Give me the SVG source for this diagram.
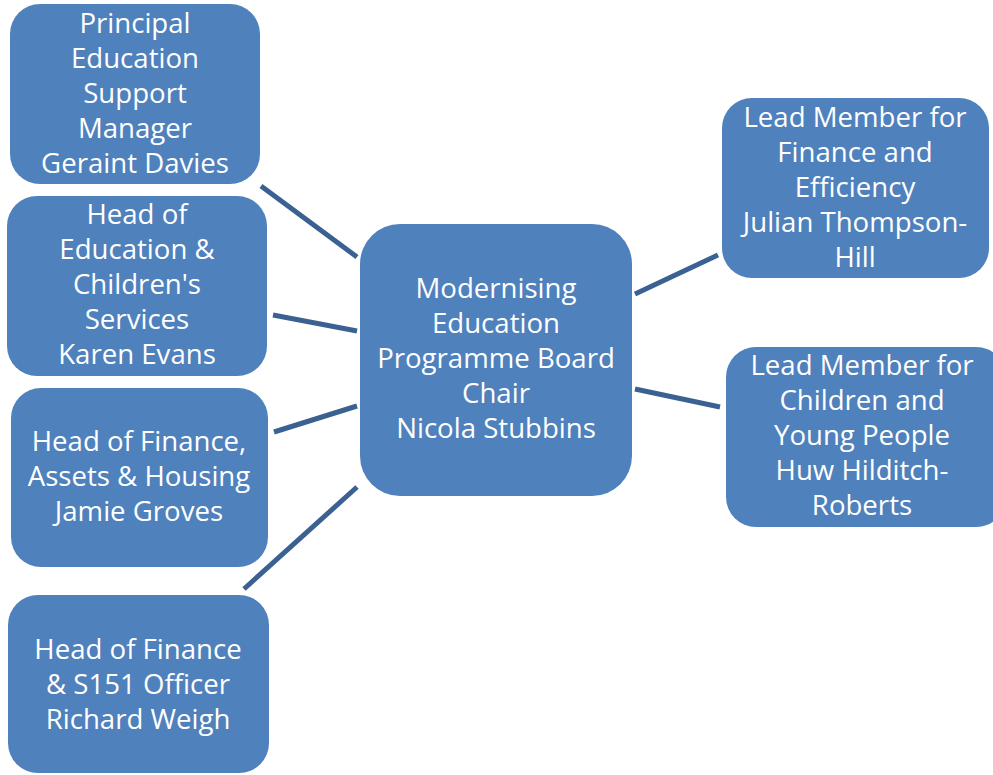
<svg xmlns="http://www.w3.org/2000/svg" width="993" height="775" viewBox="0 0 993 775">
<style>
.box{fill:#4F81BD;}
.t{font-family:"Open Sans","Liberation Sans",sans-serif;font-size:27.6px;fill:#FFFFFF;text-anchor:middle;}
.c{stroke:#3A6191;stroke-width:5;fill:none;}
</style>
<rect width="993" height="775" fill="#FFFFFF"/>
<g id="connectors">
<line class="c" x1="261" y1="186" x2="357" y2="257"/>
<line class="c" x1="273" y1="315" x2="357" y2="331"/>
<line class="c" x1="274" y1="432" x2="357" y2="406"/>
<line class="c" x1="244" y1="589" x2="357" y2="487"/>
<line class="c" x1="635" y1="294" x2="718" y2="255"/>
<line class="c" x1="635" y1="389" x2="720" y2="407"/>
</g>
<g id="n-principal">
<rect class="box" x="10" y="4" width="250" height="180" rx="30"/>
<text class="t" x="135" y="33">Principal</text>
<text class="t" x="135" y="68">Education</text>
<text class="t" x="135" y="103">Support</text>
<text class="t" x="135" y="138">Manager</text>
<text class="t" x="135" y="173">Geraint Davies</text>
</g>
<g id="n-education">
<rect class="box" x="7" y="196" width="260" height="180" rx="30"/>
<text class="t" x="137" y="224">Head of</text>
<text class="t" x="137" y="259">Education &amp;</text>
<text class="t" x="137" y="294">Children's</text>
<text class="t" x="137" y="329">Services</text>
<text class="t" x="137" y="364">Karen Evans</text>
</g>
<g id="n-assets">
<rect class="box" x="11" y="388" width="257" height="179" rx="30"/>
<text class="t" x="139" y="451">Head of Finance,</text>
<text class="t" x="139" y="486">Assets &amp; Housing</text>
<text class="t" x="139" y="521">Jamie Groves</text>
</g>
<g id="n-s151">
<rect class="box" x="8" y="595" width="261" height="178" rx="30"/>
<text class="t" x="138" y="659">Head of Finance</text>
<text class="t" x="138" y="694">&amp; S151 Officer</text>
<text class="t" x="138" y="729">Richard Weigh</text>
</g>
<g id="n-board">
<rect class="box" x="360" y="224" width="272" height="272" rx="40"/>
<text class="t" x="496" y="298">Modernising</text>
<text class="t" x="496" y="333">Education</text>
<text class="t" x="496" y="368">Programme Board</text>
<text class="t" x="496" y="403">Chair</text>
<text class="t" x="496" y="438">Nicola Stubbins</text>
</g>
<g id="n-finance-lead">
<rect class="box" x="722" y="98" width="267" height="180" rx="30"/>
<text class="t" x="855" y="127">Lead Member for</text>
<text class="t" x="855" y="162">Finance and</text>
<text class="t" x="855" y="197">Efficiency</text>
<text class="t" x="855" y="232">Julian Thompson-</text>
<text class="t" x="855" y="267">Hill</text>
</g>
<g id="n-children-lead">
<rect class="box" x="726" y="347" width="280" height="180" rx="30"/>
<text class="t" x="862" y="375">Lead Member for</text>
<text class="t" x="862" y="410">Children and</text>
<text class="t" x="862" y="445">Young People</text>
<text class="t" x="862" y="480">Huw Hilditch-</text>
<text class="t" x="862" y="515">Roberts</text>
</g>
</svg>
